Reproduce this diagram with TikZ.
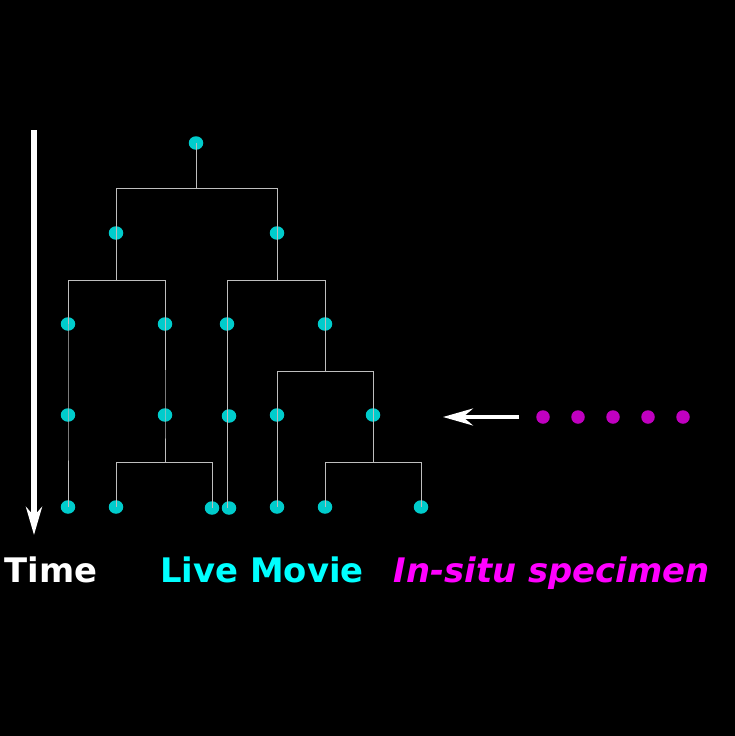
\documentclass[tikz,border=0pt]{standalone}
\usepackage{fontspec}
\setmainfont{DejaVu Sans}
\usetikzlibrary{arrows.meta,shapes.geometric}
\definecolor{cellc}{RGB}{0,204,204}
\definecolor{specc}{RGB}{192,0,192}
\definecolor{linec}{RGB}{190,190,190}
\definecolor{cyantxt}{RGB}{0,255,255}
\definecolor{magtxt}{RGB}{255,0,255}
\begin{document}
\begin{tikzpicture}[x=1pt,y=-1pt,
  cell/.style={ellipse,fill=cellc,minimum width=14.5pt,minimum height=13.5pt,inner sep=0pt},
  spec/.style={circle,fill=specc,minimum size=13.5pt,inner sep=0pt},
  tree/.style={draw=linec,line width=1pt},
  lbl/.style={font=\bfseries\fontsize{33.8}{36}\selectfont,anchor=base}]
\fill[black] (0,0) rectangle (735,736);
\useasboundingbox (0,0) rectangle (735,736);
% cells
\node[cell] (r) at (196,143) {};
\node[cell] (a) at (116,233) {};
\node[cell] (b) at (277,233) {};
\node[cell] (a1) at (68,324) {};
\node[cell] (a2) at (165,324) {};
\node[cell] (b1) at (227,324) {};
\node[cell] (b2) at (325,324) {};
\node[cell] (a1t) at (68,415) {};
\node[cell] (a2t) at (165,415) {};
\node[cell] (b1t) at (229,416) {};
\node[cell] (c1) at (277,415) {};
\node[cell] (c2) at (373,415) {};
\node[cell] (a1e) at (68,507) {};
\node[cell] (d1) at (116,507) {};
\node[cell] (d2) at (212,508) {};
\node[cell] (b1e) at (229,508) {};
\node[cell] (c1e) at (277,507) {};
\node[cell] (e1) at (325,507) {};
\node[cell] (e2) at (421,507) {};
% tree lines
\draw[tree] (r.center) -- (196,188) -| (a.center);
\draw[tree] (196,188) -| (b.center);
\draw[tree] (a.center) -- (116,280) -| (a1.center);
\draw[tree] (116,280) -| (a2.center);
\draw[tree] (b.center) -- (277,280) -| (b1.center);
\draw[tree] (277,280) -| (b2.center);
\draw[tree] (a1.center) -- (a1t.center) -- (a1e.center);
\draw[tree] (a2.center) -- (a2t.center) -- (165,462) -| (d1.center);
\draw[tree] (165,462) -| (d2.center);
\draw[tree] (b1.center) -- (b1.center |- b1e.center);
\draw[tree] (b2.center) -- (325,371) -| (c1.center);
\draw[tree] (325,371) -| (c2.center);
\draw[tree] (c1.center) -- (c1e.center);
\draw[tree] (c2.center) -- (373,462) -| (e1.center);
\draw[tree] (373,462) -| (e2.center);
% time arrow
\coordinate (t0) at (34,130);
\coordinate (t1) at (34,535);
\draw[white,line width=6pt,-{Stealth[length=28pt,width=16pt,inset=9pt]}] (t0) -- (t1);
% specimen
\node[spec] (s1) at (543,417) {};
\node[spec] (s2) at (578,417) {};
\node[spec] (s3) at (613,417) {};
\node[spec] (s4) at (648,417) {};
\node[spec] (s5) at (683,417) {};
\coordinate (p0) at (519,417);
\coordinate (p1) at (443,417);
\draw[white,line width=3.5pt,-{Stealth[length=30pt,width=17pt,inset=10pt]}] (p0) -- (p1);
% labels
\node[lbl,text=white] (lt) at (51,582) {Time};
\node[lbl,text=cyantxt] (lm) at (262,582) {Live Movie};
\node[lbl,text=magtxt,font=\bfseries\itshape\fontsize{33.8}{36}\selectfont] (ls) at (551.5,582) {In-situ specimen};
\end{tikzpicture}
\end{document}
